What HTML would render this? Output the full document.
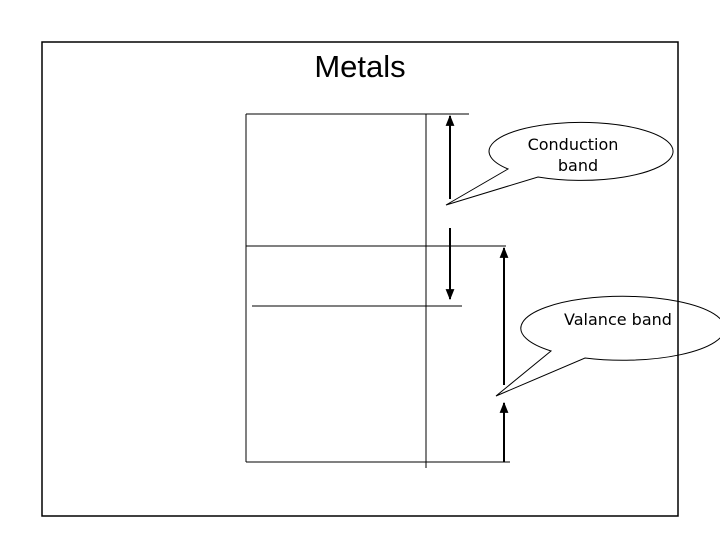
<!DOCTYPE html>
<html><head><meta charset="utf-8"><style>
html,body{margin:0;padding:0;background:#fff;}
svg{display:block;}
</style></head><body>
<svg width="720" height="540" viewBox="0 0 720 540" xmlns="http://www.w3.org/2000/svg">
<defs>
<marker id="ah" viewBox="0 0 10 10" refX="9" refY="5" markerWidth="5.5" markerHeight="5.5" orient="auto">
<path d="M0,1 L10,5 L0,9 z" fill="#000"/>
</marker>
</defs>
<text x="360" y="77" font-family="Liberation Sans, sans-serif" font-size="31" text-anchor="middle">Metals</text>
<g stroke="#000" stroke-width="1">
<line x1="246" y1="114" x2="469" y2="114"/>
<line x1="246" y1="114" x2="246" y2="462"/>
<line x1="426" y1="114" x2="426" y2="468"/>
<line x1="246" y1="246" x2="506" y2="246"/>
<line x1="252" y1="306" x2="462" y2="306"/>
<line x1="246" y1="462" x2="510" y2="462"/>
</g>
<g stroke="#000" stroke-width="2">
<line x1="450" y1="199" x2="450" y2="116" marker-end="url(#ah)"/>
<line x1="450" y1="228" x2="450" y2="299" marker-end="url(#ah)"/>
<line x1="504" y1="385" x2="504" y2="248" marker-end="url(#ah)"/>
<line x1="504" y1="462" x2="504" y2="403" marker-end="url(#ah)"/>
</g>
<path d="M508,169 L446,205 L538,177 A92,29 0 1 0 508,169 Z" fill="#fff" stroke="#000" stroke-width="1"/>
<path d="M551,351 L496,396 L585,358 A102,32 0 1 0 551,351 Z" fill="#fff" stroke="#000" stroke-width="1"/>
<g font-family="DejaVu Sans, Liberation Sans, sans-serif" font-size="16" text-anchor="middle">
<text x="573" y="150">Conduction</text>
<text x="578" y="171">band</text>
<text x="618" y="325">Valance band</text>
</g>
<rect x="42" y="42" width="636" height="474" fill="none" stroke="#000" stroke-width="1.5"/>
</svg>
</body></html>
